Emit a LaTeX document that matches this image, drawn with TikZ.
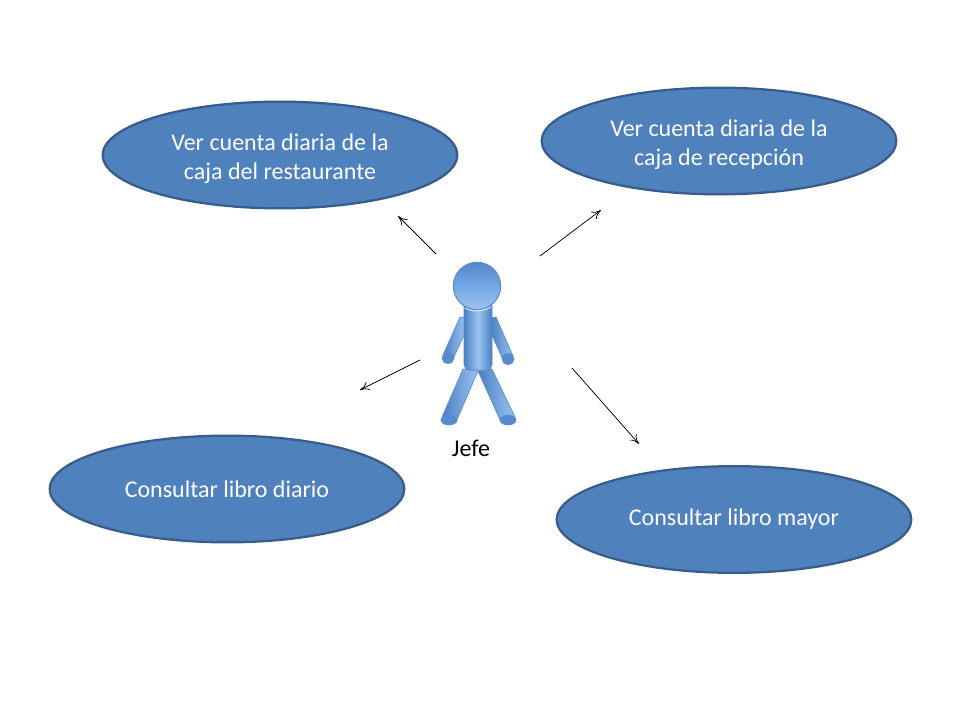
\documentclass[tikz,border=0pt]{standalone}
\usepackage{fontspec}
\setmainfont{Carlito}
\usetikzlibrary{shapes.geometric,arrows.meta}
\definecolor{ovalfill}{HTML}{4F81BD}
\definecolor{ovalline}{HTML}{385D8A}
\definecolor{figdark}{HTML}{4A7FC4}
\definecolor{figmid}{HTML}{74A8E4}
\definecolor{figlight}{HTML}{9CC3F0}
\definecolor{figedge}{HTML}{5B8CC8}
\newcommand{\firstlinepad}{\rule{0pt}{18pt}}
\tikzset{
  oval/.style={ellipse,draw=ovalline,line width=1.7pt,fill=ovalfill,text=white,
    minimum width=266pt,minimum height=80pt,inner sep=0pt,align=center,
    font=\fontsize{18}{21.8}\selectfont},
  pointer/.style={draw=black,line width=0.55pt,-{To[length=7pt,width=7pt]}},
  limb/.style={draw=figedge,line width=0.5pt,shading angle=#1,left color=figdark,right color=figlight},
  foot/.style={draw=figedge,line width=0.5pt,fill=figdark!70!figmid},
  torso/.style={draw=figedge,line width=0.5pt,left color=figdark,right color=figdark,middle color=figlight},
  headball/.style={circle,draw=figedge,line width=0.8pt,minimum size=35.5pt,inner sep=0pt,
    top color=figdark!80!figmid,bottom color=figlight,middle color=figmid},
  caption/.style={text=black,font=\fontsize{18}{21}\selectfont,inner sep=0pt}
}
\begin{document}
\begin{tikzpicture}[x=0.75pt,y=-0.75pt]
\useasboundingbox (0,0) rectangle (960,720);
\fill[white] (0,0) rectangle (960,720);

\node[oval] (rest) at (280,155) {\firstlinepad Ver cuenta diaria de la\\caja del restaurante};
\node[oval] (rece) at (719,141) {\firstlinepad Ver cuenta diaria de la\\caja de recepción};
\node[oval] (diar) at (227,489) {Consultar libro diario};
\node[oval] (mayo) at (734,519.5) {Consultar libro mayor};

% legs
\path[limb=120] (463,369) -- (442,417) -- (456,422) -- (478,371) -- cycle;
\path[limb=60] (478,371) -- (501,422) -- (515,417) -- (492,369) -- cycle;
\path[foot] (449,420) ellipse [x radius=8, y radius=5];
\path[foot] (508,420) ellipse [x radius=8, y radius=5];
% arms
\path[limb=115] (460,317) -- (443,355) -- (453,359) -- (465,333) -- (465,318) -- cycle;
\path[limb=65] (491,318) -- (491,333) -- (503,360) -- (513,356) -- (496,317) -- cycle;
\path[foot] (448,358) ellipse [x radius=6, y radius=5.5];
\path[foot] (508,359) ellipse [x radius=6, y radius=5.5];
% body
\path[torso,rounded corners=4pt] (464,300) rectangle (492,370);
% head
\node[headball] (head) at (477,286) {};
\draw[white,line width=0.7pt,opacity=.8] (465,308) .. controls (472,312) and (482,312) .. (491,307);

\node[caption] (jefe) at (471,448) {Jefe};

\coordinate (a1) at (436,254);
\coordinate (a2) at (540,256);
\coordinate (a3) at (420,360);
\coordinate (a4) at (572,368);
\coordinate (b1) at (398,216);
\coordinate (b2) at (601,210);
\coordinate (b3) at (360,390);
\coordinate (b4) at (639,444);
\draw[pointer] (a1) -- (b1);
\draw[pointer] (a2) -- (b2);
\draw[pointer] (a3) -- (b3);
\draw[pointer] (a4) -- (b4);
\end{tikzpicture}
\end{document}
